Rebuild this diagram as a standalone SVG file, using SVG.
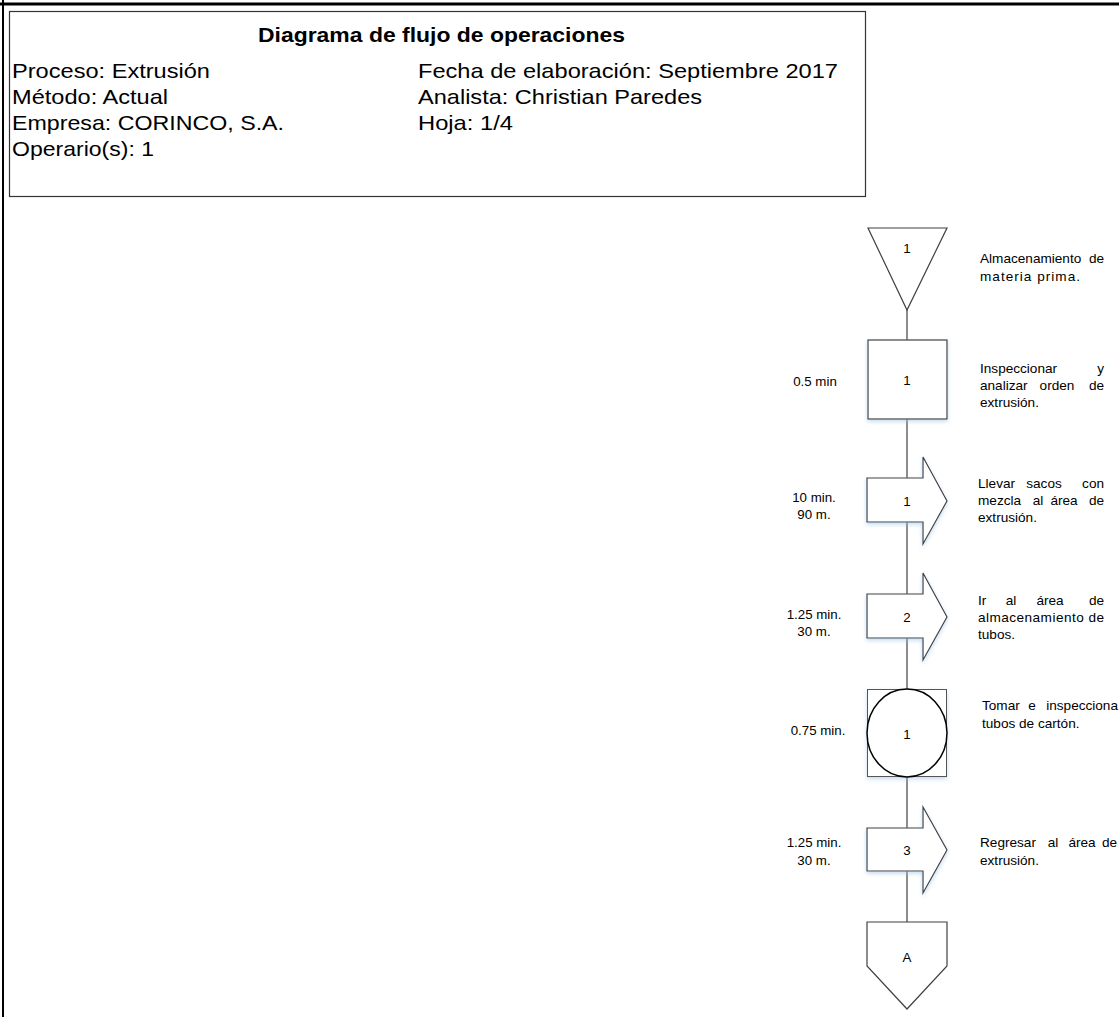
<svg xmlns="http://www.w3.org/2000/svg" width="1119" height="1017" viewBox="0 0 1119 1017">
<style>
.hd{font-family:"Liberation Sans",Arial,sans-serif;font-size:21px;fill:#000}
.ttl{font-weight:bold}
.sm{font-family:"Liberation Sans",Arial,sans-serif;font-size:13.6px;fill:#000}
.r{text-anchor:end}
.m{text-anchor:middle}
.lbl{font-family:"Liberation Sans",Arial,sans-serif;font-size:13.3px;fill:#000;text-anchor:middle}
.shp{fill:#fff;stroke:#404040;stroke-width:1.2}
.con{stroke:#404040;stroke-width:1.2;fill:none}
</style>
<defs>
<filter id="sh" x="-20%" y="-20%" width="140%" height="140%">
<feDropShadow dx="0" dy="2" stdDeviation="2" flood-color="#9dc3e6" flood-opacity="0.6"/>
</filter>
</defs>
<rect width="1119" height="1017" fill="#fff"/>
<g id="frame">
<line x1="0" y1="4" x2="1119" y2="4" stroke="#000" stroke-width="3"/>
<line x1="3" y1="0" x2="3" y2="1017" stroke="#000" stroke-width="2"/>
</g>
<g id="header">
<rect x="9.5" y="11.5" width="856" height="185" fill="#fff" stroke="#333" stroke-width="1.2"/>
<text class="hd ttl" x="258" y="42" textLength="367" lengthAdjust="spacingAndGlyphs">Diagrama de flujo de operaciones</text>
<text class="hd" x="12" y="78" textLength="198" lengthAdjust="spacingAndGlyphs">Proceso: Extrusión</text>
<text class="hd" x="12" y="104" textLength="156" lengthAdjust="spacingAndGlyphs">Método: Actual</text>
<text class="hd" x="12" y="130" textLength="272" lengthAdjust="spacingAndGlyphs">Empresa: CORINCO, S.A.</text>
<text class="hd" x="12" y="156" textLength="142" lengthAdjust="spacingAndGlyphs">Operario(s): 1</text>
<text class="hd" x="418" y="78" textLength="420" lengthAdjust="spacingAndGlyphs">Fecha de elaboración: Septiembre 2017</text>
<text class="hd" x="418" y="104" textLength="284" lengthAdjust="spacingAndGlyphs">Analista: Christian Paredes</text>
<text class="hd" x="418" y="130" textLength="95" lengthAdjust="spacingAndGlyphs">Hoja: 1/4</text>
</g>
<g id="connectors">
<line class="con" x1="907" y1="310" x2="907" y2="922"/>
</g>
<g id="storage1">
<polygon class="shp" points="868,228 947,228 907,310"/>
<text class="lbl" x="907" y="253">1</text>
<text class="sm" y="263"><tspan x="980">Almacenamiento</tspan><tspan class="r" x="1104">de</tspan></text>
<text class="sm" x="980" y="281" textLength="100" lengthAdjust="spacing">materia prima.</text>
</g>
<g id="inspection1">
<rect class="shp" x="868" y="340" width="79" height="79" filter="url(#sh)"/>
<text class="lbl" x="907" y="385">1</text>
<text class="lbl" x="815" y="386">0.5 min</text>
<text class="sm" y="373"><tspan x="980">Inspeccionar</tspan><tspan class="r" x="1104">y</tspan></text>
<text class="sm" y="390"><tspan x="980">analizar</tspan><tspan class="m" x="1057">orden</tspan><tspan class="r" x="1104">de</tspan></text>
<text class="sm" x="980" y="407">extrusión.</text>
</g>
<g id="transport1">
<path class="shp" d="M867,478 H923 V457 L947,501 L923,544 V522 H867 Z" filter="url(#sh)"/>
<text class="lbl" x="907" y="506">1</text>
<text class="lbl" x="814" y="502">10 min.</text>
<text class="lbl" x="814" y="519">90 m.</text>
<text class="sm" y="488"><tspan x="978">Llevar</tspan><tspan class="m" x="1044">sacos</tspan><tspan class="r" x="1104">con</tspan></text>
<text class="sm" y="505"><tspan x="978">mezcla</tspan><tspan class="m" x="1038">al</tspan><tspan class="m" x="1064">área</tspan><tspan class="r" x="1104">de</tspan></text>
<text class="sm" x="978" y="522">extrusión.</text>
</g>
<g id="transport2">
<path class="shp" d="M867,594 H923 V573 L947,617 L923,660 V638 H867 Z" filter="url(#sh)"/>
<text class="lbl" x="907" y="622">2</text>
<text class="lbl" x="814" y="619">1.25 min.</text>
<text class="lbl" x="814" y="636">30 m.</text>
<text class="sm" y="605"><tspan x="978">Ir</tspan><tspan class="m" x="1011">al</tspan><tspan class="m" x="1050">área</tspan><tspan class="r" x="1104">de</tspan></text>
<text class="sm" x="978" y="622" textLength="126" lengthAdjust="spacing">almacenamiento de</text>
<text class="sm" x="978" y="639">tubos.</text>
</g>
<g id="combined1">
<rect x="867.5" y="689.5" width="79" height="87" fill="#fff" stroke="#555" stroke-width="1" filter="url(#sh)"/>
<ellipse cx="907" cy="733" rx="40" ry="44" fill="#fff" stroke="#000" stroke-width="1.5"/>
<text class="lbl" x="907" y="739">1</text>
<text class="lbl" x="818" y="735">0.75 min.</text>
<text class="sm" y="710"><tspan x="982">Tomar</tspan><tspan class="m" x="1032">e</tspan><tspan class="r" x="1118">inspecciona</tspan></text>
<text class="sm" x="982" y="728">tubos de cartón.</text>
</g>
<g id="transport3">
<path class="shp" d="M867,828 H923 V807 L947,850 L923,893 V871 H867 Z" filter="url(#sh)"/>
<text class="lbl" x="907" y="855">3</text>
<text class="lbl" x="814" y="847">1.25 min.</text>
<text class="lbl" x="814" y="865">30 m.</text>
<text class="sm" y="847"><tspan x="980">Regresar</tspan><tspan class="m" x="1053">al</tspan><tspan class="m" x="1082">área</tspan><tspan class="r" x="1117">de</tspan></text>
<text class="sm" x="980" y="865">extrusión.</text>
</g>
<g id="offpage">
<path class="shp" d="M867,922 H947 V966 L907,1009 L867,966 Z"/>
<text class="lbl" x="907" y="962">A</text>
</g>
</svg>
